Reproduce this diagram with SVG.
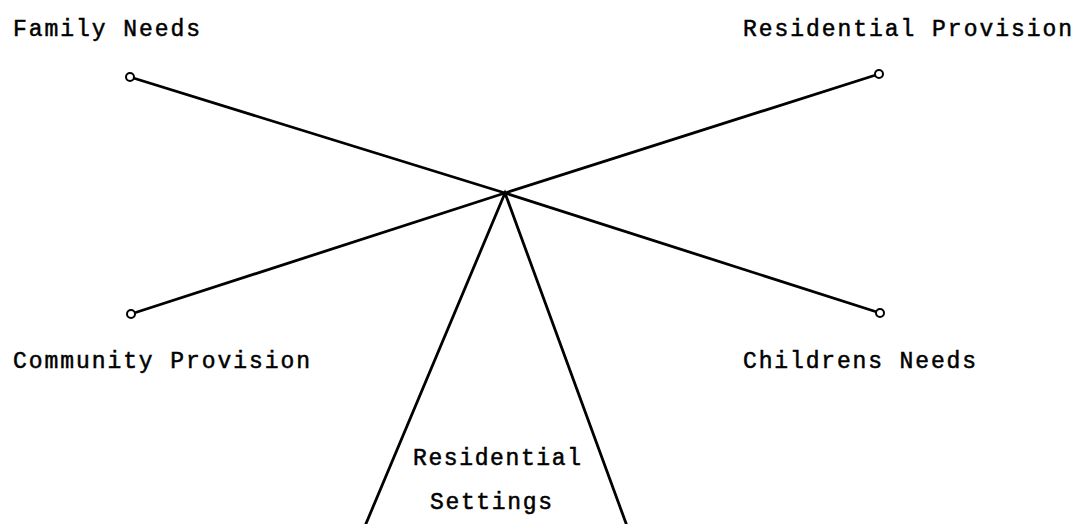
<svg xmlns="http://www.w3.org/2000/svg" width="1084" height="524" viewBox="0 0 1084 524">
<style>
.l{stroke:#000;stroke-width:2.8;fill:none;stroke-linecap:round}
.c{stroke:#000;stroke-width:2;fill:#fff}
text{font-family:"Liberation Mono","DejaVu Sans Mono",monospace;font-size:23px;fill:#000;stroke:#000;stroke-width:0.5}
</style>
<rect width="1084" height="524" fill="#fff"/>
<g id="connectors">
<line class="l" x1="130" y1="77" x2="505" y2="193"/>
<line class="l" x1="879" y1="74" x2="505" y2="193"/>
<line class="l" x1="131" y1="314" x2="505" y2="193"/>
<line class="l" x1="880" y1="313" x2="505" y2="193"/>
</g>
<g id="family-needs"><circle class="c" cx="130" cy="77" r="4"/><text x="13" y="36" textLength="187" lengthAdjust="spacing">Family Needs</text></g>
<g id="residential-provision"><circle class="c" cx="879" cy="74" r="4"/><text x="743" y="36" textLength="329" lengthAdjust="spacing">Residential Provision</text></g>
<g id="community-provision"><circle class="c" cx="131" cy="314" r="4"/><text x="13" y="368" textLength="297" lengthAdjust="spacing">Community Provision</text></g>
<g id="childrens-needs"><circle class="c" cx="880" cy="313" r="4"/><text x="743" y="368" textLength="233" lengthAdjust="spacing">Childrens Needs</text></g>
<g id="residential-settings">
<polyline class="l" points="365,526 505,193 627,526"/>
<text x="413" y="465" textLength="168" lengthAdjust="spacing">Residential</text>
<text x="430" y="509" textLength="122" lengthAdjust="spacing">Settings</text>
</g>
</svg>
